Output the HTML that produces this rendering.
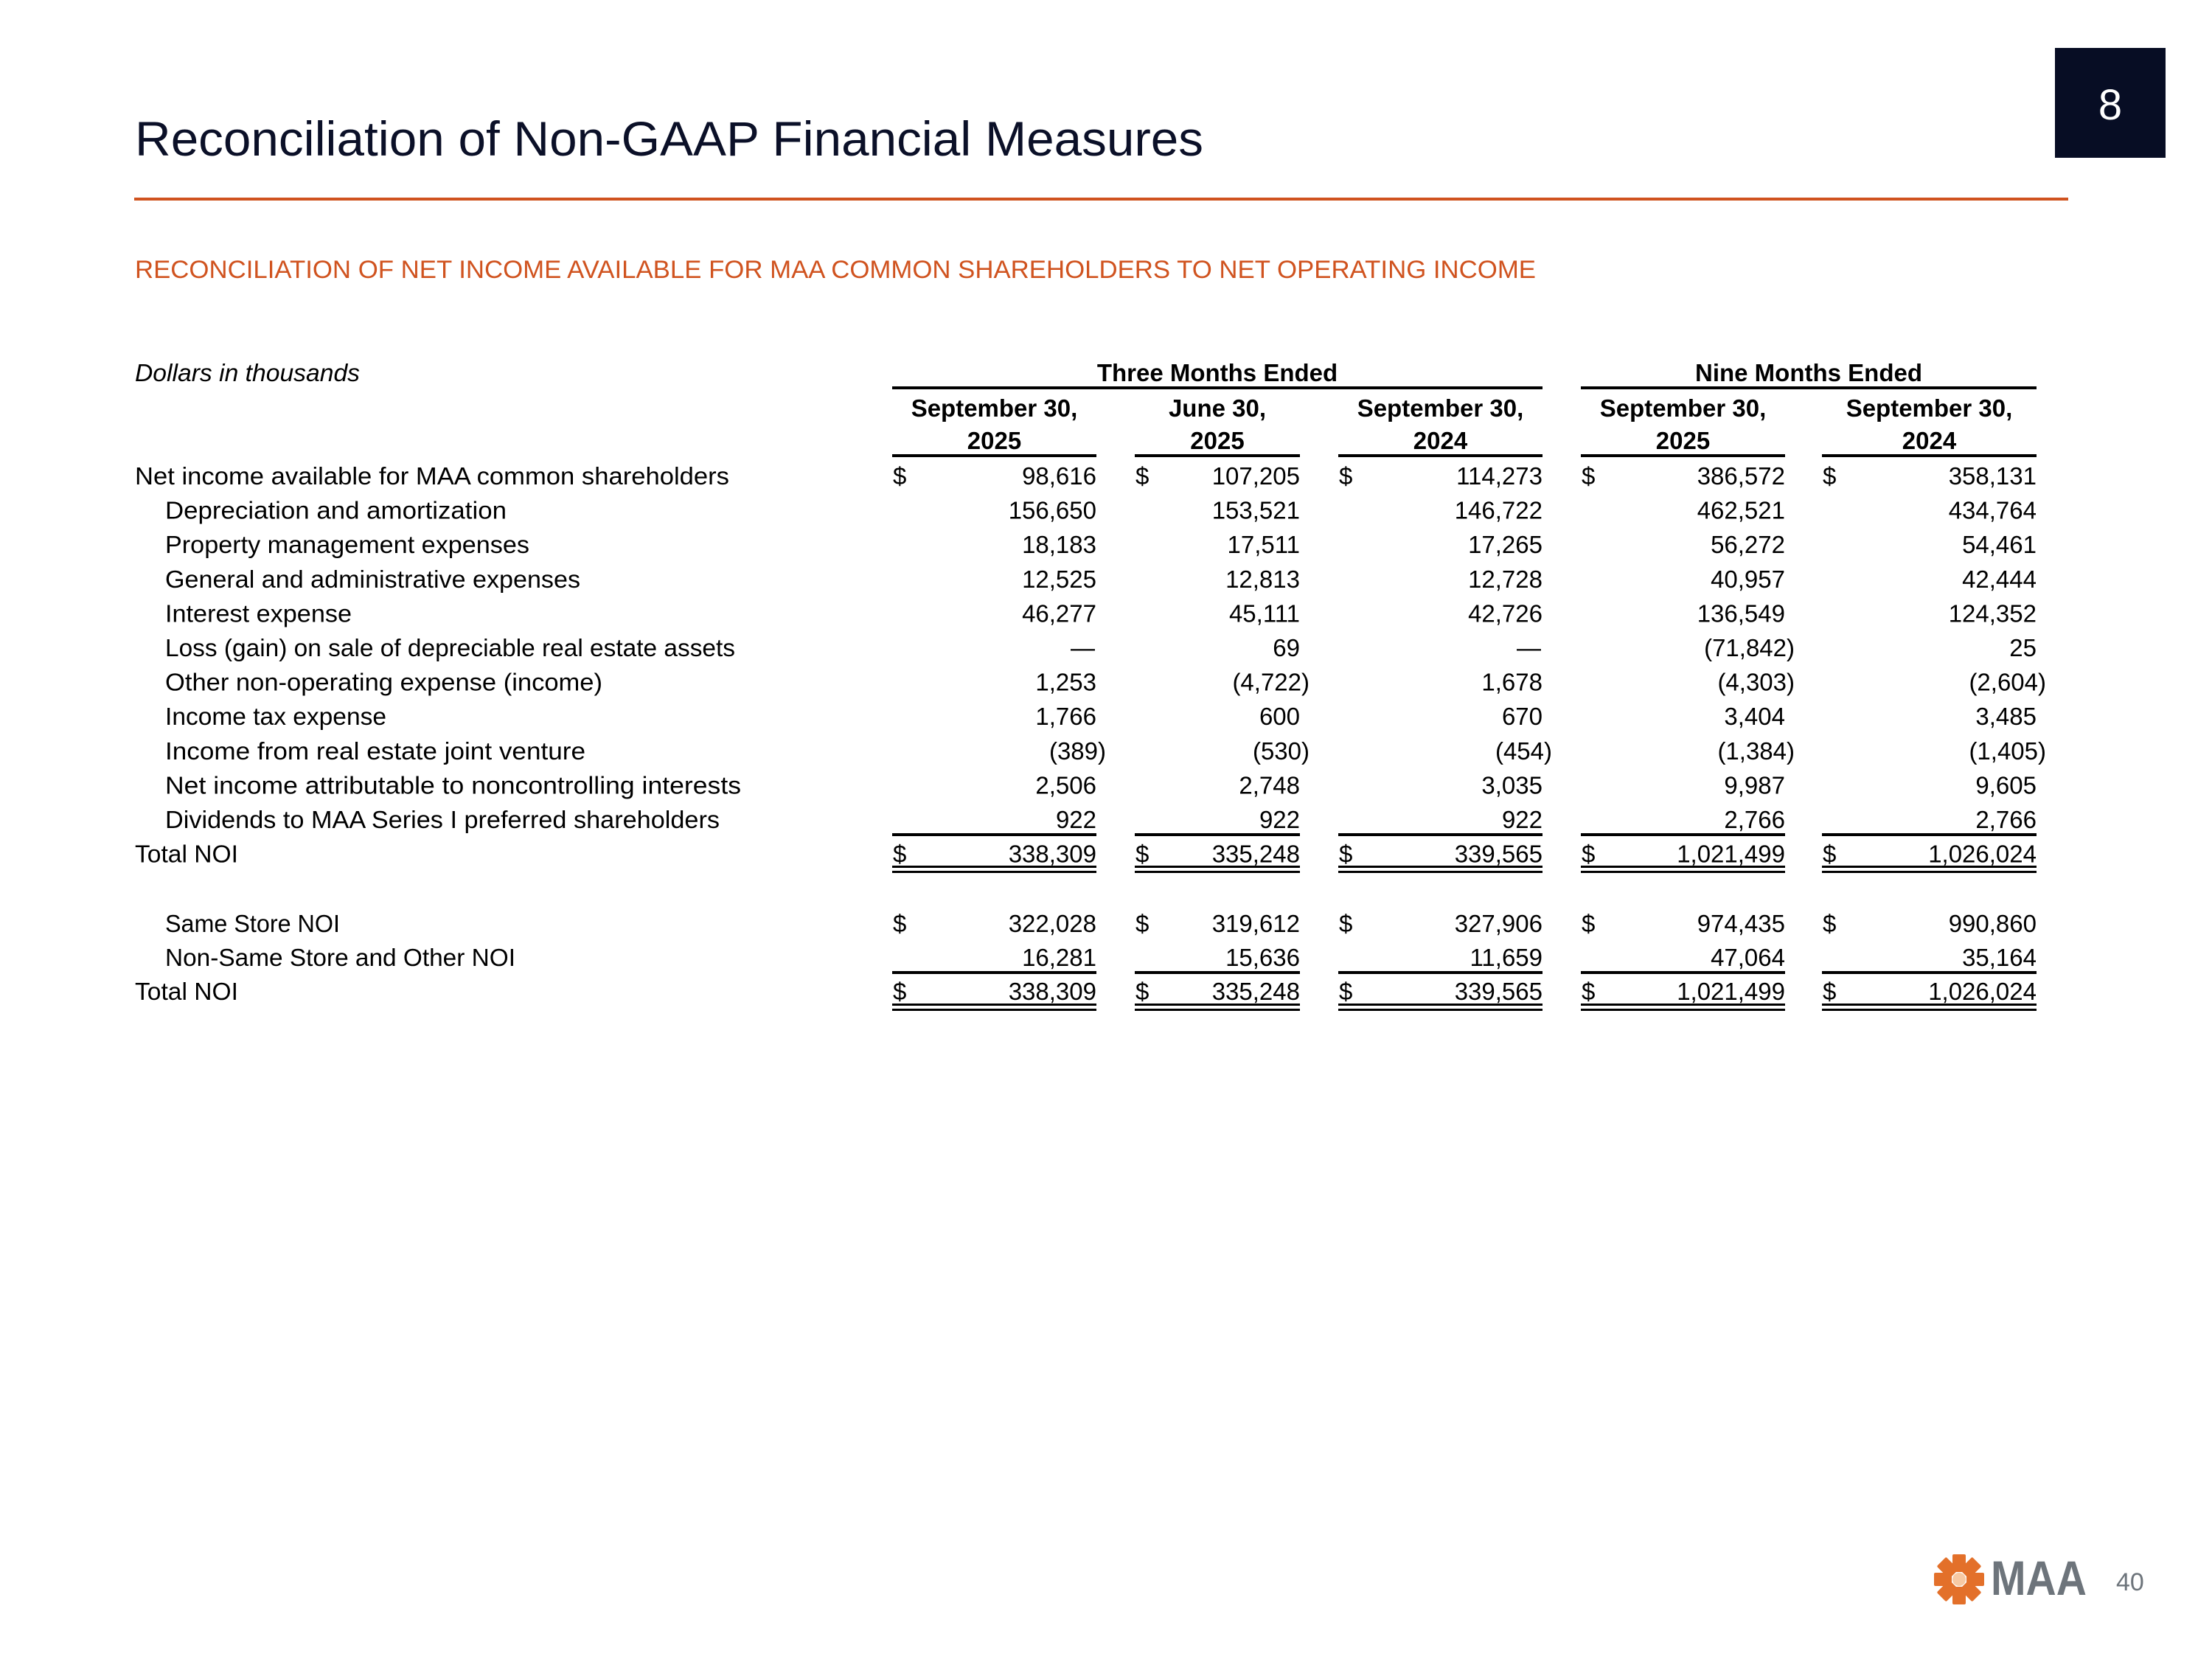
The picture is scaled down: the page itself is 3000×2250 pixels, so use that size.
<!DOCTYPE html>
<html><head><meta charset="utf-8"><style>
html,body{margin:0;padding:0;background:#fff;}
svg{display:block;font-family:"Liberation Sans",sans-serif;}
</style></head><body>
<svg id="s" width="3000" height="2250" viewBox="0 0 3000 2250" xmlns="http://www.w3.org/2000/svg">
<rect width="3000" height="2250" fill="#fff"/>
<text x="183" y="211" font-size="66" fill="#0b1028" textLength="1449" lengthAdjust="spacingAndGlyphs">Reconciliation of Non-GAAP Financial Measures</text>
<rect x="182" y="268" width="2623" height="4" fill="#d0531f"/>
<rect x="2787" y="65" width="150" height="149" fill="#070d24"/>
<text x="2862" y="162" font-size="58" fill="#fff" text-anchor="middle">8</text>
<text x="183" y="377" font-size="34" fill="#d0531f" textLength="1900" lengthAdjust="spacingAndGlyphs">RECONCILIATION OF NET INCOME AVAILABLE FOR MAA COMMON SHAREHOLDERS TO NET OPERATING INCOME</text>
<text x="183" y="517" font-size="33" font-style="italic" fill="#000" textLength="305" lengthAdjust="spacingAndGlyphs">Dollars in thousands</text>
<g id="tbl"></g>
<g>
  <g transform="translate(2657,2142)" fill="#e3702a">
    <rect x="-9" y="-34" width="18" height="24" rx="2" transform="rotate(0)"/>
    <rect x="-9" y="-34" width="18" height="24" rx="2" transform="rotate(45)"/>
    <rect x="-9" y="-34" width="18" height="24" rx="2" transform="rotate(90)"/>
    <rect x="-9" y="-34" width="18" height="24" rx="2" transform="rotate(135)"/>
    <rect x="-9" y="-34" width="18" height="24" rx="2" transform="rotate(180)"/>
    <rect x="-9" y="-34" width="18" height="24" rx="2" transform="rotate(225)"/>
    <rect x="-9" y="-34" width="18" height="24" rx="2" transform="rotate(270)"/>
    <rect x="-9" y="-34" width="18" height="24" rx="2" transform="rotate(315)"/>
    <circle r="9" fill="#f7c9a3"/>
  </g>
  <text x="2700" y="2163" font-size="66" font-weight="bold" fill="#6d747b" textLength="130" lengthAdjust="spacingAndGlyphs">MAA</text>
</g>
<text x="2870" y="2157" font-size="34" fill="#6d747b">40</text>
</svg>
<script>
const rowLabels = ["Net income available for MAA common shareholders","Depreciation and amortization","Property management expenses","General and administrative expenses","Interest expense","Loss (gain) on sale of depreciable real estate assets","Other non-operating expense (income)","Income tax expense","Income from real estate joint venture","Net income attributable to noncontrolling interests","Dividends to MAA Series I preferred shareholders","Total NOI","Same Store NOI","Non-Same Store and Other NOI","Total NOI"];
const colQ3_2025 = ["98,616","156,650","18,183","12,525","46,277","—","1,253","1,766","(389)","2,506","922","338,309","322,028","16,281","338,309"];
const colQ2_2025 = ["107,205","153,521","17,511","12,813","45,111","69","(4,722)","600","(530)","2,748","922","335,248","319,612","15,636","335,248"];
const colQ3_2024 = ["114,273","146,722","17,265","12,728","42,726","—","1,678","670","(454)","3,035","922","339,565","327,906","11,659","339,565"];
const colYTD_2025 = ["386,572","462,521","56,272","40,957","136,549","(71,842)","(4,303)","3,404","(1,384)","9,987","2,766","1,021,499","974,435","47,064","1,021,499"];
const colYTD_2024 = ["358,131","434,764","54,461","42,444","124,352","25","(2,604)","3,485","(1,405)","9,605","2,766","1,026,024","990,860","35,164","1,026,024"];
const colHeads1 = ["September 30,","June 30,","September 30,","September 30,","September 30,"];
const colHeads2 = ["2025","2025","2024","2025","2024"];
const groupHeads = ["Three Months Ended","Nine Months Ended"];

const NS="http://www.w3.org/2000/svg";
const g=document.getElementById('tbl');
function mk(tag,attrs,txt){const e=document.createElementNS(NS,tag);for(const k in attrs)e.setAttribute(k,attrs[k]);if(txt!==undefined)e.textContent=txt;g.appendChild(e);return e;}
const cols=[colQ3_2025,colQ2_2025,colQ3_2024,colYTD_2025,colYTD_2024];
const colL=[1210,1539,1815,2144,2471], colR=[1487,1763,2092,2421,2762];
const rowY=[645,691.6,738.2,784.8,831.4,878,924.6,971.2,1017.8,1064.4,1111,1157.6,1252,1298,1344];
const indent=[0,1,1,1,1,1,1,1,1,1,1,0,1,1,0];
const labelEnd=[989,687,718,787,477,997,817,524,794,1005,976,323,461,699,323];
const dollarRows=[0,11,12,14];
const gL=[colL[0],colL[3]], gR=[colR[2],colR[4]];
groupHeads.forEach((h,i)=>{
  const t=mk('text',{x:(gL[i]+gR[i])/2,y:517,'font-size':33,'font-weight':'bold','text-anchor':'middle',fill:'#000'},h);
  
  
  const r=mk('rect',{x:gL[i],y:524,width:gR[i]-gL[i],height:4,fill:'#000'});
  
  
});
cols.forEach((c,j)=>{
  const cx=(colL[j]+colR[j])/2;
  const h1=mk('text',{x:cx,y:565,'font-size':33,'font-weight':'bold','text-anchor':'middle',fill:'#000'},colHeads1[j]);
  
  
  const h2=mk('text',{x:cx,y:609,'font-size':33,'font-weight':'bold','text-anchor':'middle',fill:'#000'},colHeads2[j]);
  
  
  const u=mk('rect',{x:colL[j],y:616,width:colR[j]-colL[j],height:4,fill:'#000'});
  
  
  c.forEach((v,i)=>{
    const y=rowY[i]+12;
    let x=colR[j];
    if(v.startsWith('('))x+=13;
    if(v==='—')x-=2;
    const t=mk('text',{x:x,y:y,'font-size':33,'text-anchor':'end',fill:'#000'},v);
    
    
    if(dollarRows.includes(i)){
      const d=mk('text',{x:colL[j]+1,y:y,'font-size':33,fill:'#000'},'$');
      
      
    }
  });
  [[1130,4],[1174,3],[1181,3],[1317,4],[1361,3],[1368,3]].forEach(([y,h])=>{
    const r=mk('rect',{x:colL[j],y:y,width:colR[j]-colL[j],height:h,fill:'#000'});
    
    
  });
});
rowLabels.forEach((l,i)=>{
  const x=indent[i]?224:183;
  const t=mk('text',{x:x,y:rowY[i]+12,'font-size':33,fill:'#000',textLength:labelEnd[i]-x,lengthAdjust:'spacingAndGlyphs'},l);
  
  
});
</script>
</body></html>
